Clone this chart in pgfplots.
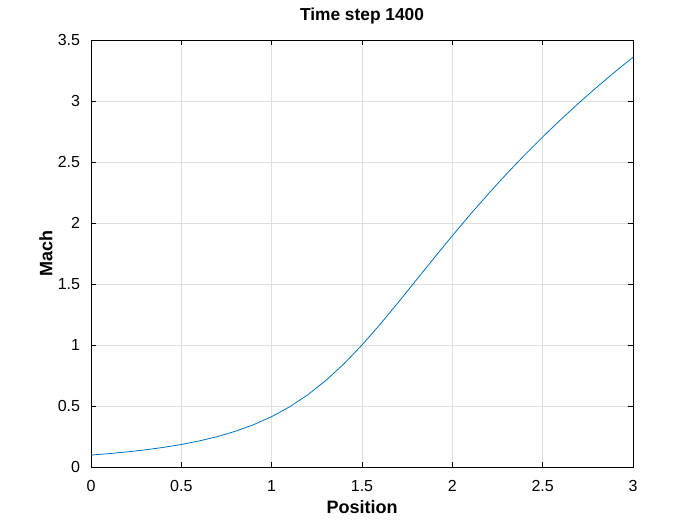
\documentclass[border=0pt]{standalone}
\usepackage{pgfplots}
\pgfplotsset{compat=1.18}
\usepackage{fontspec}
\setmainfont{Liberation Sans}
\definecolor{mblue}{rgb}{0,0.447,0.741}
\definecolor{mgrid}{rgb}{0.87,0.87,0.87}
\begin{document}
\fontsize{12}{14}\selectfont
\begin{tikzpicture}[x=0.75pt,y=0.75pt]
\path (-91,-58) rectangle (609,467);
\begin{axis}[
  at={(0,0)}, anchor=south west,
  scale only axis,
  width=406.5pt, height=320.25pt,
  xmin=0, xmax=3, ymin=0, ymax=3.5,
  xtick={0,0.5,...,3}, ytick={0,0.5,...,3.5},
  xticklabels={0,0.5,1,1.5,2,2.5,3},
  yticklabels={0,0.5,1,1.5,2,2.5,3,3.5},
  tick align=inside,
  major tick length=4pt,
  tick style={black, line width=0.5pt},
  axis line style={black, line width=0.5pt},
  grid=major,
  grid style={mgrid, line width=0.4pt},
  ticklabel style={font=\fontsize{12}{14}\selectfont},
  xticklabel style={yshift=-6pt},
  yticklabel style={xshift=-4pt},
  /pgf/number format/assume math mode=true,
  title={\textbf{Time step 1400}},
  title style={font=\fontsize{13}{15}\selectfont, at={(axis description cs:0.5,1.027)}, anchor=base},
  xlabel={\textbf{Position}},
  ylabel={\textbf{Mach}},
  label style={font=\fontsize{13.5}{15}\selectfont},
  xlabel style={at={(axis description cs:0.5,-0.1093)}, anchor=base},
  ylabel style={at={(axis description cs:-0.0713,0.5)}, anchor=base, rotate=0},
]
\addplot[mblue, line width=0.6pt] coordinates {
(0.0,0.0978) (0.1,0.1097) (0.2,0.1238) (0.3,0.1405) (0.4,0.1605)
(0.5,0.1846) (0.6,0.2138) (0.7,0.2494) (0.8,0.2931) (0.9,0.3468)
(1.0,0.4129) (1.1,0.4938) (1.2,0.5921) (1.3,0.7093) (1.4,0.8456)
(1.5,1.0000) (1.6,1.1690) (1.7,1.3479) (1.8,1.5314) (1.9,1.7151)
(2.0,1.8957) (2.1,2.0712) (2.2,2.2401) (2.3,2.4022) (2.4,2.5573)
(2.5,2.7056) (2.6,2.8475) (2.7,2.9833) (2.8,3.1136) (2.9,3.2387)
(3.0,3.3590)
};
\end{axis}
\end{tikzpicture}
\end{document}
